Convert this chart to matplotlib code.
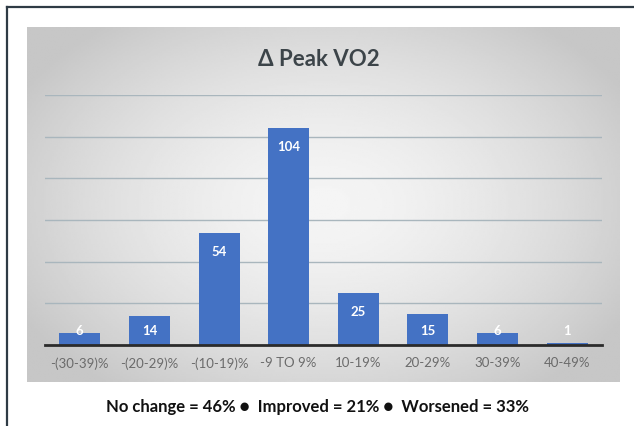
import numpy as np
import matplotlib
matplotlib.use("Agg")
import matplotlib.pyplot as plt
from matplotlib.patches import Rectangle

categories = ["-(30-39)%", "-(20-29)%", "-(10-19)%", "-9 TO 9%", "10-19%", "20-29%", "30-39%", "40-49%"]
counts = [6, 14, 54, 104, 25, 15, 6, 1]
title = "\u0394 Peak VO2"
footer = "No change = 46% \u25cf  Improved = 21% \u25cf  Worsened = 33%"

W, H = 634, 427
fig = plt.figure(figsize=(W / 100, H / 100), dpi=100)
fig.patch.set_facecolor("white")
plt.rcParams["font.family"] = ["Lato", "DejaVu Sans"]


def fx(px):
    return px / W


def fy(py):
    return 1 - py / H


# outer frame lines (top and left)
fig.add_artist(plt.Line2D([fx(7), fx(634)], [fy(8), fy(8)], color="#2f3b45", lw=1.6))
fig.add_artist(plt.Line2D([fx(7), fx(7)], [fy(8), fy(427)], color="#2f3b45", lw=1.6))

# grey panel with radial gradient
bg = fig.add_axes([fx(27), fy(383), fx(620 - 27), (383 - 28) / H])
yy, xx = np.mgrid[-1:1:200j, -1:1:300j]
r = np.sqrt((xx * 1.0) ** 2 + (yy * 0.9) ** 2)
shade = np.clip(0.96 - 0.14 * r ** 1.6, 0.78, 0.97)
bg.imshow(shade, cmap="gray", vmin=0, vmax=1, aspect="auto", extent=[0, 1, 0, 1])
bg.set_axis_off()

ax = fig.add_axes([fx(45), fy(346), fx(602 - 45), (346 - 96) / H])
ax.patch.set_alpha(0)
x = np.arange(len(categories))
bars = ax.bar(x, counts, width=0.59, color="#4472c4", zorder=3)
ax.set_xlim(-0.5, len(categories) - 0.5)
ax.set_ylim(0, 120)
ax.set_yticks(np.arange(20, 121, 20))
ax.yaxis.grid(True, color="#a9b6bd", lw=1.0, zorder=0)
ax.tick_params(axis="y", left=False, labelleft=False)
ax.tick_params(axis="x", length=0, pad=8, labelsize=9.5, labelcolor="#6b6b6b")
ax.set_xticks(x)
ax.set_xticklabels(categories)
for side in ["top", "right", "left"]:
    ax.spines[side].set_visible(False)
ax.spines["bottom"].set_color("#2b2b2b")
ax.spines["bottom"].set_linewidth(2)
ax.spines["bottom"].set_zorder(4)

for xi, v in zip(x, counts):
    ax.annotate(str(v), xy=(xi, max(v, 16)), xytext=(0, -13), textcoords="offset points",
                ha="center", va="center", color="white", fontsize=9.5, fontweight="bold", zorder=5)

fig.text(fx(319), fy(60), title, ha="center", va="center", fontsize=16, fontweight="bold", color="#3c4449")
fig.text(fx(318), fy(407), footer, ha="center", va="center", fontsize=12, fontweight="bold", color="#111111")

fig.savefig("out.png", dpi=100)
